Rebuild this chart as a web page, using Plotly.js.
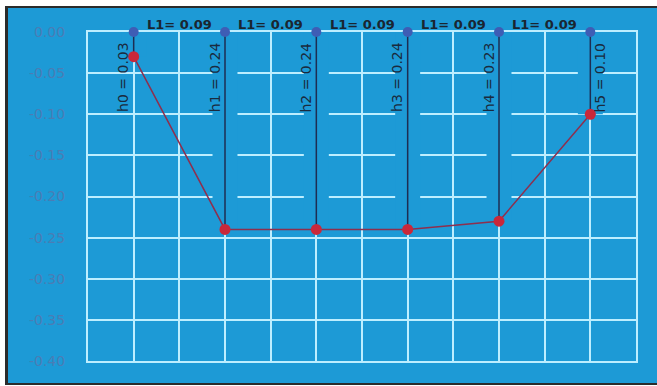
<!DOCTYPE html>
<html><head><meta charset="utf-8">
<script src="https://cdn.plot.ly/plotly-3.0.1.min.js"></script>
<style>
html,body{margin:0;padding:0;background:#fff;}
#frame{position:absolute;left:5px;top:6px;width:652px;height:379px;box-sizing:border-box;border-left:3px solid #2b2b2b;border-top:2px solid #2b2b2b;border-bottom:2px solid #2b2b2b;background:#1d9ad6;}
#chart{position:absolute;left:8px;top:8px;width:649px;height:375px;}
</style></head>
<body>
<div id="frame"></div>
<div id="chart"></div>
<script>
// Station positions along x and measured depths h (positive, plotted downward)
const stationX = [0.045, 0.135, 0.225, 0.315, 0.405, 0.495];
const depthH = [0.03, 0.24, 0.24, 0.24, 0.23, 0.10];
const spanL1 = [0.09, 0.09, 0.09, 0.09, 0.09];
const yTickVals = [0, -0.05, -0.10, -0.15, -0.20, -0.25, -0.30, -0.35, -0.40];
const yTickText = ['0.00', '-0.05', '-0.10', '-0.15', '-0.20', '-0.25', '-0.30', '-0.35', '-0.40'];

const BG = '#1d9ad6';
const GRID = '#bdeeff';
const yNeg = depthH.map(h => -h);

// background bands along each vertical line (hide gridlines there)
const bandHalf = 0.0123;
const bx = [], by = [];
stationX.forEach((x, i) => {
  bx.push(x - bandHalf, x + bandHalf, x + bandHalf, x - bandHalf, x - bandHalf, null);
  by.push(0, 0, yNeg[i], yNeg[i], 0, null);
});
// vertical lines
const vx = [], vy = [];
stationX.forEach((x, i) => { vx.push(x, x, null); vy.push(0, yNeg[i], null); });

const traces = [
  {x: bx, y: by, mode: 'lines', fill: 'toself', fillcolor: BG, line: {width: 0, color: BG}, hoverinfo: 'skip'},
  {x: vx, y: vy, mode: 'lines', line: {color: '#1e2d52', width: 1.5}, hoverinfo: 'skip', cliponaxis: false},
  {x: stationX, y: yNeg, mode: 'lines', line: {color: '#8e2f4e', width: 1.5}, hoverinfo: 'skip'},
  {x: stationX, y: yNeg, mode: 'markers', marker: {color: '#c9283a', size: 11}, hoverinfo: 'skip', cliponaxis: false},
  {x: stationX, y: stationX.map(() => 0), mode: 'markers', marker: {color: '#3e5db5', size: 10}, hoverinfo: 'skip', cliponaxis: false}
];

const annotations = [];
spanL1.forEach((L, i) => {
  annotations.push({
    x: (stationX[i] + stationX[i + 1]) / 2, y: 0, xref: 'x', yref: 'y',
    text: 'L1= ' + L.toFixed(2), showarrow: false, yshift: 8,
    font: {family: 'DejaVu Sans', size: 13, color: '#1a2530', weight: 'bold'}
  });
});
depthH.forEach((h, i) => {
  annotations.push({
    x: stationX[i], y: -0.055, xref: 'x', yref: 'y',
    text: 'h' + i + ' = ' + h.toFixed(2), showarrow: false, textangle: -90,
    xshift: i === depthH.length - 1 ? 10 : -10,
    font: {family: 'DejaVu Sans', size: 14, color: '#1a2a3e'}
  });
});

const layout = {
  width: 649, height: 375,
  margin: {l: 80, r: 21, t: 24, b: 22},
  paper_bgcolor: BG, plot_bgcolor: BG,
  showlegend: false, hovermode: false,
  xaxis: {range: [0, 0.54], tick0: 0, dtick: 0.045, showticklabels: false, showgrid: true,
          gridcolor: GRID, gridwidth: 2, zeroline: false, showline: true, mirror: true,
          linecolor: GRID, linewidth: 2, ticks: '', layer: 'below traces'},
  yaxis: {range: [-0.40, 0], tickvals: yTickVals, ticktext: yTickText, showgrid: true,
          gridcolor: GRID, gridwidth: 2, zeroline: false, showline: true, mirror: true,
          linecolor: GRID, linewidth: 2, ticks: '', ticklabelstandoff: 18, layer: 'below traces',
          tickfont: {family: 'DejaVu Sans', size: 14, color: '#4a7db5'}},
  annotations: annotations
};
Plotly.newPlot('chart', traces, layout, {displayModeBar: false, staticPlot: true});
</script>
</body></html>
